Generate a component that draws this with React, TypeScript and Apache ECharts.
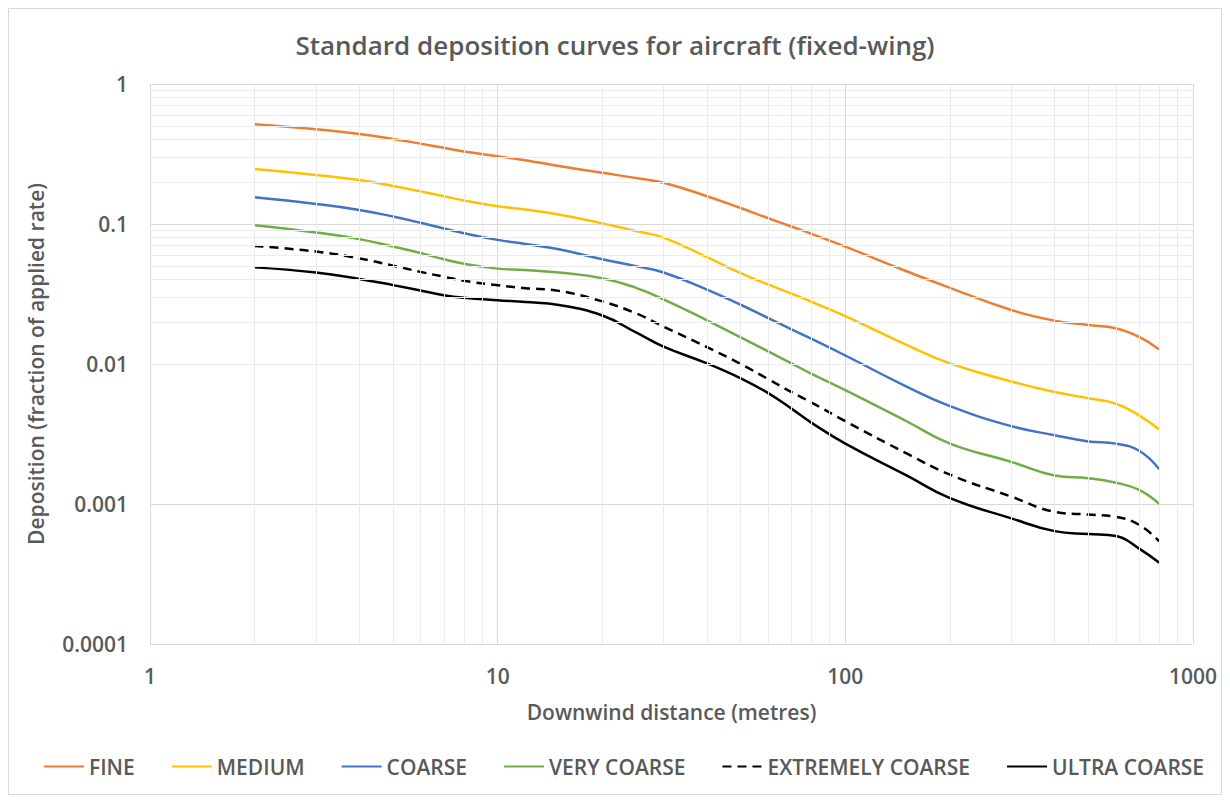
import React, { useEffect, useRef } from "react";
import * as echarts from "echarts";

const distances = [2, 3, 4, 5, 6, 7, 8, 10, 12, 15, 20, 25, 30, 40, 50, 60, 70, 80, 100, 150, 200, 300, 400, 500, 600, 700, 800];

const fine = [0.515, 0.475, 0.44, 0.405, 0.375, 0.35, 0.33, 0.305, 0.285, 0.26, 0.232, 0.213, 0.197, 0.158, 0.13, 0.11, 0.096, 0.085, 0.069, 0.046, 0.035, 0.0243, 0.0204, 0.019, 0.018, 0.0156, 0.0127];
const medium = [0.247, 0.224, 0.206, 0.187, 0.171, 0.158, 0.147, 0.134, 0.127, 0.117, 0.101, 0.089, 0.08, 0.058, 0.0445, 0.037, 0.0318, 0.0278, 0.022, 0.0137, 0.0101, 0.0075, 0.0063, 0.0057, 0.0052, 0.0043, 0.0034];
const coarse = [0.155, 0.139, 0.126, 0.113, 0.102, 0.093, 0.086, 0.077, 0.072, 0.066, 0.056, 0.05, 0.045, 0.034, 0.0265, 0.0213, 0.0177, 0.0151, 0.0115, 0.0069, 0.005, 0.0036, 0.0031, 0.0028, 0.0027, 0.0024, 0.00177];
const veryCoarse = [0.098, 0.087, 0.078, 0.069, 0.062, 0.056, 0.052, 0.048, 0.047, 0.045, 0.041, 0.035, 0.029, 0.0205, 0.0155, 0.0123, 0.0101, 0.0085, 0.0065, 0.0039, 0.0027, 0.002, 0.0016, 0.00153, 0.00142, 0.00126, 0.001];
const extremelyCoarse = [0.0697, 0.0636, 0.0568, 0.0504, 0.0455, 0.042, 0.0393, 0.0365, 0.0348, 0.0333, 0.028, 0.023, 0.0185, 0.0132, 0.01, 0.0078, 0.0063, 0.0053, 0.0039, 0.0023, 0.00162, 0.00113, 0.00088, 0.00084, 0.00081, 0.00071, 0.00054];
const ultraCoarse = [0.049, 0.045, 0.0405, 0.0366, 0.0335, 0.031, 0.0297, 0.0285, 0.0277, 0.0264, 0.0222, 0.0168, 0.0133, 0.0101, 0.0079, 0.0062, 0.0048, 0.0038, 0.0027, 0.0016, 0.0011, 0.00079, 0.00064, 0.00061, 0.00059, 0.00048, 0.00038];

const seriesNames = ["FINE", "MEDIUM", "COARSE", "VERY COARSE", "EXTREMELY COARSE", "ULTRA COARSE"];
const seriesColors = ["#ED7D31", "#FFC000", "#4472C4", "#70AD47", "#000000", "#000000"];
const seriesDash: any[] = ["solid", "solid", "solid", "solid", [9, 6], "solid"];
const seriesValues = [fine, medium, coarse, veryCoarse, extremelyCoarse, ultraCoarse];

const xMinorGrid = [2, 3, 4, 5, 6, 7, 8, 9, 20, 30, 40, 50, 60, 70, 80, 90, 200, 300, 400, 500, 600, 700, 800, 900];
const yMinorGrid = [
  0.0002, 0.0003, 0.0004, 0.0005, 0.0006, 0.0007, 0.0008, 0.0009,
  0.002, 0.003, 0.004, 0.005, 0.006, 0.007, 0.008, 0.009,
  0.02, 0.03, 0.04, 0.05, 0.06, 0.07, 0.08, 0.09,
  0.2, 0.3, 0.4, 0.5, 0.6, 0.7, 0.8, 0.9,
];

const title = "Standard deposition curves for aircraft (fixed-wing)";
const xName = "Downwind distance (metres)";
const yName = "Deposition (fraction of applied rate)";

const FONT = "'Open Sans', 'Noto Sans', sans-serif";
const TEXT = "#595959";
const FS = 21;

function fmt(v: number): string {
  return String(Number(v.toPrecision(6)));
}

export default function App() {
  const ref = useRef<HTMLDivElement>(null);
  useEffect(() => {
    if (!ref.current) return;
    const chart = echarts.init(ref.current, undefined, { renderer: "svg" });
    const lineSeries = seriesNames.map((name, i) => ({
      name,
      type: "line",
      smooth: 0.45,
      symbol: "none",
      z: 3,
      data: distances.map((d, j) => [d, seriesValues[i][j]]),
      lineStyle: { color: seriesColors[i], width: 2.5, type: seriesDash[i], cap: "butt" },
      itemStyle: { color: seriesColors[i] },
    }));
    const gridSeries = {
      name: "minor-grid",
      type: "line",
      data: [],
      silent: true,
      z: 1,
      markLine: {
        silent: true,
        symbol: "none",
        animation: false,
        label: { show: false },
        lineStyle: { color: "#ececec", width: 1, type: "solid" },
        emphasis: { disabled: true },
        data: [
          ...xMinorGrid.map((v) => ({ xAxis: v })),
          ...yMinorGrid.map((v) => ({ yAxis: v })),
        ],
      },
    };
    chart.setOption({
      animation: false,
      backgroundColor: "#ffffff",
      textStyle: { fontFamily: FONT },
      title: {
        text: title,
        left: "center",
        top: 27,
        textStyle: { fontFamily: FONT, fontSize: 26, fontWeight: 600, color: TEXT },
      },
      graphic: [
        {
          type: "rect",
          shape: { x: 8.5, y: 8.5, width: 1213, height: 786 },
          style: { fill: "none", stroke: "#d9d9d9", lineWidth: 1 },
          silent: true,
        },
      ],
      legend: {
        data: seriesNames,
        top: 751,
        left: 38,
        itemWidth: 40,
        itemHeight: 14,
        itemGap: 36,
        itemStyle: { opacity: 0 },
        textStyle: { fontFamily: FONT, fontSize: FS, fontWeight: 600, color: TEXT },
      },
      grid: { left: 150, top: 84, width: 1043, height: 560, containLabel: false },
      xAxis: {
        type: "log",
        logBase: 10,
        min: 1,
        max: 1000,
        name: xName,
        nameLocation: "middle",
        nameGap: 57,
        nameTextStyle: { fontFamily: FONT, fontSize: FS, fontWeight: 600, color: TEXT },
        axisLine: { show: false },
        axisTick: { show: false },
        axisLabel: { fontFamily: FONT, fontSize: FS, fontWeight: 600, color: TEXT, margin: 21, formatter: fmt },
        splitLine: { show: true, lineStyle: { color: "#d9d9d9", width: 1 } },
      },
      yAxis: {
        type: "log",
        logBase: 10,
        min: 0.0001,
        max: 1,
        name: yName,
        nameLocation: "middle",
        nameGap: 104,
        nameTextStyle: { fontFamily: FONT, fontSize: FS, fontWeight: 600, color: TEXT },
        axisLine: { show: false },
        axisTick: { show: false },
        axisLabel: { fontFamily: FONT, fontSize: FS, fontWeight: 600, color: TEXT, margin: 22, formatter: fmt },
        splitLine: { show: true, lineStyle: { color: "#d9d9d9", width: 1 } },
      },
      series: [gridSeries, ...lineSeries],
    });
    return () => chart.dispose();
  }, []);
  return (
    <div
      ref={ref}
      style={{ position: "fixed", left: 0, top: 0, width: 1230, height: 803, background: "#fff" }}
    />
  );
}
